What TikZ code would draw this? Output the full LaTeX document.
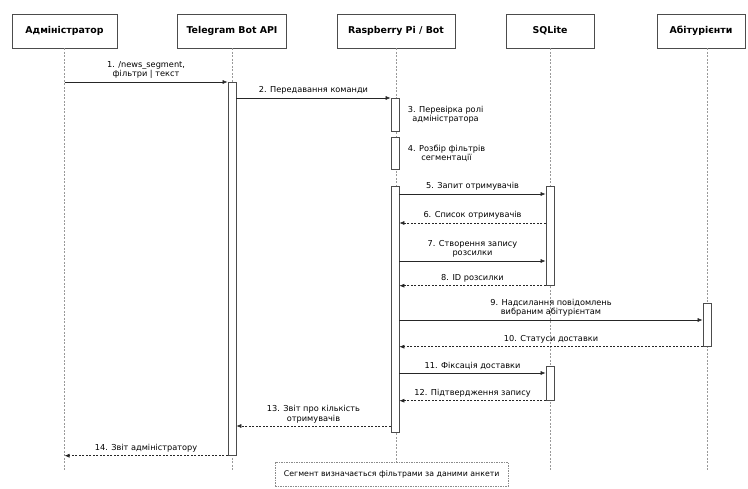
\documentclass[tikz,border=0pt]{standalone}
\usepackage{fontspec}
\setmainfont{DejaVu Sans}
\usetikzlibrary{arrows.meta,positioning,calc}

\begin{document}
\begin{tikzpicture}[x=1pt, y=-1pt,
    every node/.style={font=\fontsize{8.2}{9.6}\selectfont},
    actor/.style={draw=black!70, line width=0.9pt, minimum height=34pt, inner sep=0pt,
                  font=\fontsize{9.4}{11}\selectfont\bfseries},
    life/.style={draw=black!40, line width=0.6pt, dash pattern=on 2pt off 1.5pt},
    bar/.style={draw=black!70, fill=white, line width=0.7pt, minimum width=8pt, inner sep=0pt, anchor=north},
    msg/.style={-{Latex[length=5pt,width=4pt]}, line width=0.6pt, draw=black!85},
    ret/.style={msg, dash pattern=on 2pt off 1.5pt},
    lbl/.style={above=3pt, align=center, inner sep=0pt}]

  \useasboundingbox (0,0) rectangle (748,488);

  % participants
  \node[actor, minimum width=105pt] (adm)  at (64.5,31) {Адміністратор};
  \node[actor, minimum width=109pt] (tg)   at (232,31)  {Telegram Bot API};
  \node[actor, minimum width=118pt] (rpi)  at (396,31)  {Raspberry Pi / Bot};
  \node[actor, minimum width=88pt]  (db)   at (550,31)  {SQLite};
  \node[actor, minimum width=88pt]  (abit) at (701,31)  {Абітурієнти};
  \coordinate (abitl) at (707,48);

  % lifelines
  \draw[life] (adm.south) -- ++(0,422);
  \draw[life] (tg.south) -- ++(0,422);
  \draw[life] (rpi.south) -- ++(0,414);
  \draw[life] (db.south) -- ++(0,422);
  \draw[life] (abitl) -- ++(0,422);

  % activation bars
  \node[bar, minimum height=373pt] (tgbar) at (232,82) {};
  \node[bar, minimum height=33pt]  (rpib1) at (395,98) {};
  \node[bar, minimum height=32pt]  (rpib2) at (395,137) {};
  \node[bar, minimum height=246pt] (rpib3) at (395,186) {};
  \node[bar, minimum height=99pt]  (dbb1)  at (550,186) {};
  \node[bar, minimum height=34pt]  (dbb2)  at (550,366) {};
  \node[bar, minimum height=43pt]  (abb)   at (707,303) {};

  % messages
  \draw[msg] (adm.south |- tgbar.north) -- (tgbar.north west)
    node[lbl, midway] {1. /news\_segment,\\фільтри | текст};
  \draw[msg] (tgbar.east |- rpib1.north) -- (rpib1.north west)
    node[lbl, midway] {2. Передавання команди};
  \node[right=5pt of rpib1, align=center] (chk) {3. Перевірка ролі\\адміністратора};
  \node[right=5pt of rpib2, align=center] (flt) {4. Розбір фільтрів\\сегментації};

  \draw[msg] ($(rpib3.east)!(0,194)!(rpib3.north east)$) coordinate (m5) -- (dbb1.west |- m5)
    node[lbl, midway] {5. Запит отримувачів};
  \draw[ret] ($(dbb1.west)!(0,223)!(dbb1.north west)$) coordinate (m6) -- (rpib3.east |- m6)
    node[lbl, midway] {6. Список отримувачів};
  \draw[msg] ($(rpib3.east)!(0,261)!(rpib3.north east)$) coordinate (m7) -- (dbb1.west |- m7)
    node[lbl, midway] {7. Створення запису\\розсилки};
  \draw[ret] (dbb1.south west) -- (rpib3.east |- dbb1.south)
    node[lbl, midway] {8. ID розсилки};

  \draw[msg] ($(rpib3.east)!(0,320)!(rpib3.north east)$) coordinate (m9) -- (abb.west |- m9)
    node[lbl, midway] {9. Надсилання повідомлень\\вибраним абітурієнтам};
  \draw[ret] (abb.south west) -- (rpib3.east |- abb.south)
    node[lbl, midway] {10. Статуси доставки};
  \draw[msg] ($(rpib3.east)!(0,373)!(rpib3.north east)$) coordinate (m11) -- (dbb2.west |- m11)
    node[lbl, midway] {11. Фіксація доставки};
  \draw[ret] (dbb2.south west) -- (rpib3.east |- dbb2.south)
    node[lbl, midway] {12. Підтвердження запису};

  \draw[ret] ($(rpib3.west)!(0,426)!(rpib3.north west)$) coordinate (m13) -- (tgbar.east |- m13)
    node[lbl, midway] {13. Звіт про кількість\\отримувачів};
  \draw[ret] (tgbar.south west) -- (adm.south |- tgbar.south)
    node[lbl, midway] {14. Звіт адміністратору};

  % note
  \node[draw=black!45, dash pattern=on 1.5pt off 1pt, minimum width=233pt, minimum height=24pt,
        font=\fontsize{7.8}{9}\selectfont, anchor=north west] (note) at (275,462)
    {Сегмент визначається фільтрами за даними анкети};
\end{tikzpicture}
\end{document}
